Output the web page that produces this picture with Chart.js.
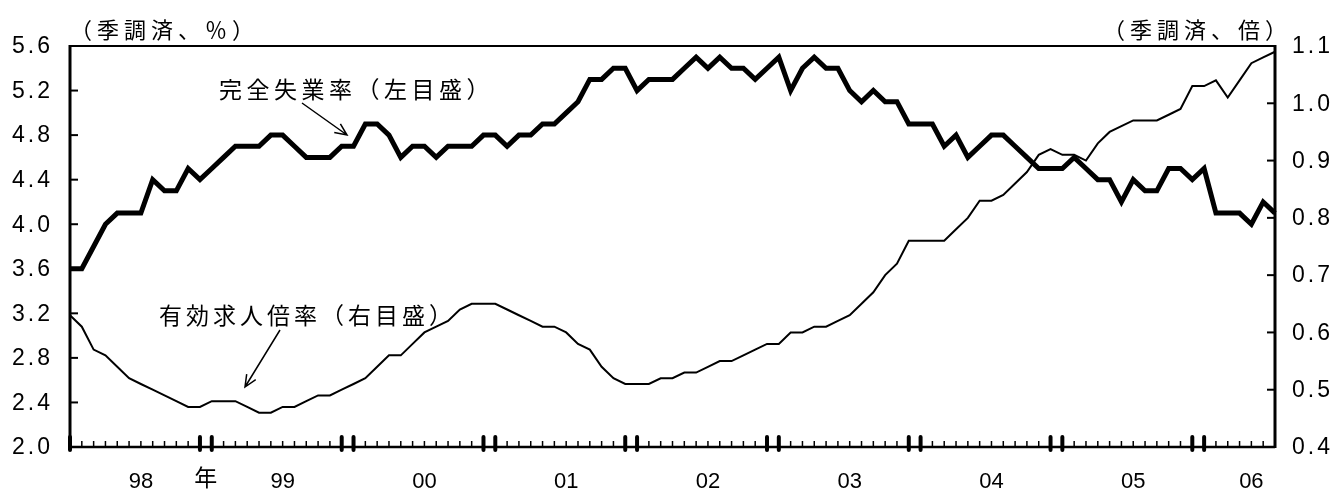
<!DOCTYPE html>
<html>
<head>
<meta charset="utf-8">
<script src="https://cdn.jsdelivr.net/npm/chart.js@4.4.1/dist/chart.umd.min.js"></script>
<style>
  body { margin: 0; background: #fff; }
  #wrap { width: 1335px; height: 493px; }
</style>
</head>
<body>
<div id="wrap"><canvas id="chart" width="1335" height="493"></canvas></div>
<script>
// monthly, Jan 1998 - Jul 2006
const years = ['98', '99', '00', '01', '02', '03', '04', '05', '06'];

// 完全失業率 (%), left axis
const unemployment = [
  3.6, 3.6, 3.8, 4.0, 4.1, 4.1, 4.1, 4.4, 4.3, 4.3, 4.5, 4.4,
  4.5, 4.6, 4.7, 4.7, 4.7, 4.8, 4.8, 4.7, 4.6, 4.6, 4.6, 4.7,
  4.7, 4.9, 4.9, 4.8, 4.6, 4.7, 4.7, 4.6, 4.7, 4.7, 4.7, 4.8,
  4.8, 4.7, 4.8, 4.8, 4.9, 4.9, 5.0, 5.1, 5.3, 5.3, 5.4, 5.4,
  5.2, 5.3, 5.3, 5.3, 5.4, 5.5, 5.4, 5.5, 5.4, 5.4, 5.3, 5.4,
  5.5, 5.2, 5.4, 5.5, 5.4, 5.4, 5.2, 5.1, 5.2, 5.1, 5.1, 4.9,
  4.9, 4.9, 4.7, 4.8, 4.6, 4.7, 4.8, 4.8, 4.7, 4.6, 4.5, 4.5,
  4.5, 4.6, 4.5, 4.4, 4.4, 4.2, 4.4, 4.3, 4.3, 4.5, 4.5, 4.4,
  4.5, 4.1, 4.1, 4.1, 4.0, 4.2, 4.1
];

// 有効求人倍率 (倍), right axis
const jobRatio = [
  0.63, 0.61, 0.57, 0.56, 0.54, 0.52, 0.51, 0.50, 0.49, 0.48, 0.47, 0.47,
  0.48, 0.48, 0.48, 0.47, 0.46, 0.46, 0.47, 0.47, 0.48, 0.49, 0.49, 0.50,
  0.51, 0.52, 0.54, 0.56, 0.56, 0.58, 0.60, 0.61, 0.62, 0.64, 0.65, 0.65,
  0.65, 0.64, 0.63, 0.62, 0.61, 0.61, 0.60, 0.58, 0.57, 0.54, 0.52, 0.51,
  0.51, 0.51, 0.52, 0.52, 0.53, 0.53, 0.54, 0.55, 0.55, 0.56, 0.57, 0.58,
  0.58, 0.60, 0.60, 0.61, 0.61, 0.62, 0.63, 0.65, 0.67, 0.70, 0.72, 0.76,
  0.76, 0.76, 0.76, 0.78, 0.80, 0.83, 0.83, 0.84, 0.86, 0.88, 0.91, 0.92,
  0.91, 0.91, 0.90, 0.93, 0.95, 0.96, 0.97, 0.97, 0.97, 0.98, 0.99, 1.03,
  1.03, 1.04, 1.01, 1.04, 1.07, 1.08, 1.09
];

const leftUnit = '（季調済、％）';
const rightUnit = '（季調済、倍）';
const yearMark = '年';
const unemploymentNote = '完全失業率（左目盛）';
const jobRatioNote = '有効求人倍率（右目盛）';

const labels = [];
years.forEach(y => {
  for (let m = 1; m <= 12; m++) labels.push(y + '/' + m);
});
labels.length = unemployment.length;

const jpFont = '"Noto Sans CJK JP", "Noto Sans", sans-serif';
const numFont = '"Liberation Sans", Arial, sans-serif';

function text(ctx, str, x, y, font, align, spacing) {
  ctx.font = font;
  ctx.textAlign = align;
  ctx.textBaseline = 'middle';
  ctx.letterSpacing = (spacing || 0) + 'px';
  ctx.fillText(str, x, y);
  ctx.letterSpacing = '0px';
}

function arrow(ctx, x1, y1, x2, y2) {
  const a = Math.atan2(y2 - y1, x2 - x1);
  const len = 13, spread = 0.42;
  ctx.lineWidth = 1.5;
  ctx.beginPath();
  ctx.moveTo(x1, y1);
  ctx.lineTo(x2, y2);
  ctx.moveTo(x2 - len * Math.cos(a - spread), y2 - len * Math.sin(a - spread));
  ctx.lineTo(x2, y2);
  ctx.lineTo(x2 - len * Math.cos(a + spread), y2 - len * Math.sin(a + spread));
  ctx.stroke();
}

const framePlugin = {
  id: 'frame',
  afterDraw(chart) {
    const ctx = chart.ctx;
    const area = chart.chartArea;
    const xs = chart.scales.x, yL = chart.scales.yL, yR = chart.scales.yR;
    ctx.save();
    ctx.strokeStyle = '#000';
    ctx.fillStyle = '#000';

    // box
    ctx.lineWidth = 2;
    ctx.beginPath();
    ctx.moveTo(area.left, area.top);
    ctx.lineTo(area.right, area.top);
    ctx.stroke();
    ctx.lineWidth = 2.5;
    ctx.beginPath();
    ctx.moveTo(area.left, area.bottom);
    ctx.lineTo(area.right, area.bottom);
    ctx.stroke();
    ctx.lineWidth = 3;
    ctx.beginPath();
    ctx.moveTo(area.left, area.top - 1);
    ctx.lineTo(area.left, area.bottom + 1);
    ctx.moveTo(area.right, area.top - 1);
    ctx.lineTo(area.right, area.bottom + 1);
    ctx.stroke();

    // axis ticks + labels
    ctx.lineWidth = 2;
    yL.ticks.forEach(t => {
      const py = yL.getPixelForValue(t.value);
      ctx.beginPath();
      ctx.moveTo(area.left, py);
      ctx.lineTo(area.left + 8, py);
      ctx.stroke();
      text(ctx, t.value.toFixed(1), 53, py + 1, '23px ' + numFont, 'right', 3);
    });
    yR.ticks.forEach(t => {
      const py = yR.getPixelForValue(t.value);
      ctx.beginPath();
      ctx.moveTo(area.right - 8, py);
      ctx.lineTo(area.right, py);
      ctx.stroke();
      text(ctx, t.value.toFixed(1), 1292, py + 1, '23px ' + numFont, 'left', 3);
    });

    // month ticks, Dec/Jan marked heavy
    for (let i = 0; i < labels.length - 1; i++) {
      const px = xs.getPixelForValue(i);
      const m = i % 12;
      ctx.beginPath();
      if (m === 11 || m === 0) {
        ctx.lineWidth = 4;
        ctx.lineCap = 'round';
        ctx.moveTo(px, area.bottom + 3);
        ctx.lineTo(px, area.bottom - 10);
      } else {
        ctx.lineWidth = 1.5;
        ctx.lineCap = 'butt';
        ctx.moveTo(px, area.bottom);
        ctx.lineTo(px, area.bottom - 6);
      }
      ctx.stroke();
    }
    ctx.lineCap = 'butt';

    // year labels
    years.forEach((y, k) => {
      const idx = Math.min(12 * k + 6, labels.length - 3);
      text(ctx, y, xs.getPixelForValue(idx), 482, '22px ' + numFont, 'center', 0);
    });
    text(ctx, yearMark, (xs.getPixelForValue(11) + xs.getPixelForValue(12)) / 2, 477, '23px ' + jpFont, 'center', 0);

    // units
    text(ctx, leftUnit, 70, 30, '22px ' + jpFont, 'left', 5);
    text(ctx, rightUnit, 1292, 30, '22px ' + jpFont, 'right', 5);

    // notes
    text(ctx, unemploymentNote, 219, 89, '23px ' + jpFont, 'left', 4.5);
    arrow(ctx, 302, 103, 347, 135);
    text(ctx, jobRatioNote, 159, 315, '23px ' + jpFont, 'left', 4);
    arrow(ctx, 280, 330, 245, 387);

    ctx.restore();
  }
};

new Chart(document.getElementById('chart'), {
  type: 'line',
  data: {
    labels: labels,
    datasets: [
      {
        label: '完全失業率',
        data: unemployment,
        yAxisID: 'yL',
        borderColor: '#000',
        borderWidth: 5,
        pointRadius: 0,
        tension: 0
      },
      {
        label: '有効求人倍率',
        data: jobRatio,
        yAxisID: 'yR',
        borderColor: '#000',
        borderWidth: 2,
        pointRadius: 0,
        tension: 0
      }
    ]
  },
  options: {
    responsive: false,
    animation: false,
    events: [],
    layout: { padding: { top: 46, left: 0, right: 0, bottom: 0 } },
    plugins: { legend: { display: false }, tooltip: { enabled: false } },
    scales: {
      x: {
        offset: false,
        grid: { display: false },
        border: { display: false },
        ticks: { display: false },
        afterFit: s => { s.height = 46; }
      },
      yL: {
        position: 'left',
        min: 2.0,
        max: 5.6,
        ticks: { display: false, stepSize: 0.4 },
        grid: { display: false },
        border: { display: false },
        afterFit: s => { s.width = 70; }
      },
      yR: {
        position: 'right',
        min: 0.4,
        max: 1.1,
        ticks: { display: false, stepSize: 0.1 },
        grid: { display: false },
        border: { display: false },
        afterFit: s => { s.width = 60; }
      }
    }
  },
  plugins: [framePlugin]
});
</script>
</body>
</html>
